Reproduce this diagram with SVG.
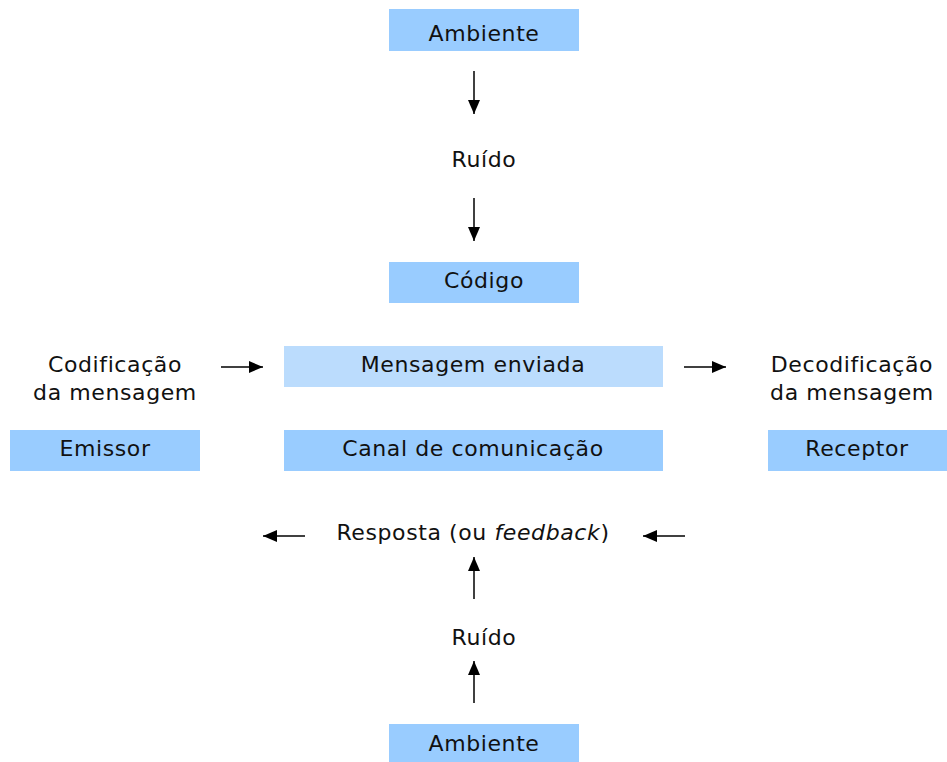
<svg xmlns="http://www.w3.org/2000/svg" width="947" height="762" viewBox="0 0 947 762">
<defs>
<style>
.box{fill:#99ccff}
.light{fill:#bbdcfd}
text{font-family:"DejaVu Sans",Verdana,sans-serif;font-size:22px;letter-spacing:0.6px;fill:#111;text-anchor:middle}
.c line{stroke:#000;stroke-width:1.5;marker-end:url(#ah)}
</style>
<marker id="ah" viewBox="0 0 14 12" refX="14" refY="6" markerWidth="14" markerHeight="12" markerUnits="userSpaceOnUse" orient="auto">
<path d="M0,0 L14,6 L0,12 z" fill="#000"/>
</marker>
</defs>
<rect width="947" height="762" fill="#fff"/>
<g id="ambiente-top"><rect class="box" x="389" y="9" width="190" height="42"/><text x="484" y="41">Ambiente</text></g>
<g id="ruido-top"><text x="484" y="167">Ruído</text></g>
<g id="codigo"><rect class="box" x="389" y="262" width="190" height="41"/><text x="484" y="288">Código</text></g>
<g id="codificacao"><text x="115" y="372">Codificação</text><text x="115" y="400">da mensagem</text></g>
<g id="mensagem"><rect class="light" x="284" y="346" width="379" height="41"/><text x="473" y="372">Mensagem enviada</text></g>
<g id="decodificacao"><text x="852" y="372">Decodificação</text><text x="852" y="400">da mensagem</text></g>
<g id="emissor"><rect class="box" x="10" y="430" width="190" height="41"/><text x="105" y="456">Emissor</text></g>
<g id="canal"><rect class="box" x="284" y="430" width="379" height="41"/><text x="473" y="456">Canal de comunicação</text></g>
<g id="receptor"><rect class="box" x="768" y="430" width="179" height="41"/><text x="857" y="456">Receptor</text></g>
<g id="resposta"><text x="473" y="540">Resposta (ou <tspan font-style="italic">feedback</tspan>)</text></g>
<g id="ruido-bottom"><text x="484" y="645">Ruído</text></g>
<g id="ambiente-bottom"><rect class="box" x="389" y="724" width="190" height="38"/><text x="484" y="751">Ambiente</text></g>
<g class="c" id="connectors">
<line x1="474" y1="71" x2="474" y2="114"/>
<line x1="474" y1="198" x2="474" y2="241"/>
<line x1="221" y1="367" x2="263" y2="367"/>
<line x1="684" y1="367" x2="726" y2="367"/>
<line x1="305" y1="536" x2="263" y2="536"/>
<line x1="685" y1="536" x2="643" y2="536"/>
<line x1="474" y1="599" x2="474" y2="557"/>
<line x1="474" y1="703" x2="474" y2="661"/>
</g>
</svg>
